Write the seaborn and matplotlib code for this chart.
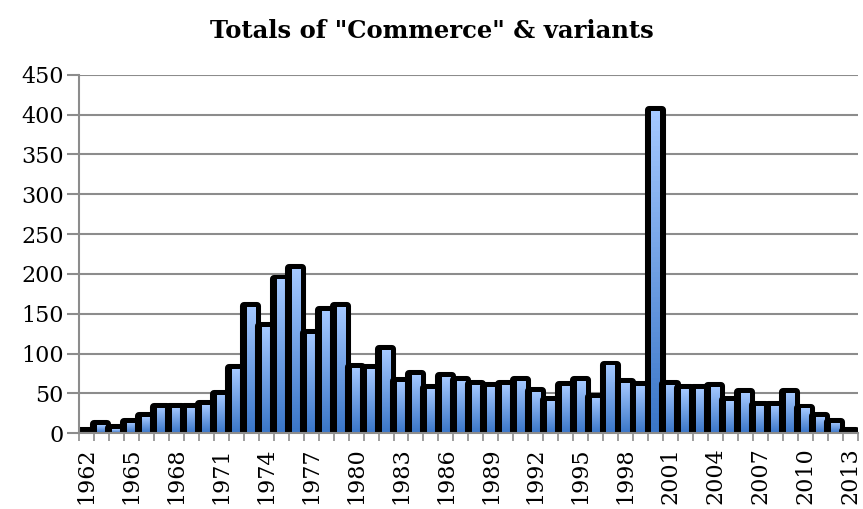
import matplotlib
matplotlib.use('Agg')
import matplotlib.pyplot as plt
import matplotlib.colors as mcolors
import numpy as np
import pandas as pd
import seaborn as sns

# Data
years = list(range(1962, 2014))
totals = [1, 10, 5, 13, 20, 32, 32, 32, 35, 48,
          80, 159, 133, 193, 206, 125, 154, 158, 82, 80,
          104, 64, 73, 55, 70, 65, 61, 58, 60, 66,
          52, 41, 59, 65, 44, 85, 63, 59, 404, 61,
          55, 55, 58, 40, 50, 34, 34, 50, 31, 20,
          13, 2]
label_years = years[::3]

df = pd.DataFrame({"Year": [str(y) for y in years], "Total": totals})

sns.set_style("white")
plt.rcParams['font.family'] = ['DejaVu Serif']
plt.rcParams['text.color'] = 'black'
plt.rcParams['xtick.color'] = 'black'
plt.rcParams['ytick.color'] = 'black'

fig, ax = plt.subplots(figsize=(8.63, 5.09), dpi=100)
fig.subplots_adjust(left=0.0915, right=0.994, bottom=0.149, top=0.853)

# grid first so bars sit on top
for v in range(50, 451, 50):
    ax.axhline(v, color='#8c8c8c', lw=1.5, zorder=0)

# black glow behind each bar (thick round-joined edge gives rounded tops)
sns.barplot(data=df, x="Year", y="Total", color='black', width=0.87,
            edgecolor='black', linewidth=5.8, ax=ax)
n_shadow = len(ax.patches)
# blue front bars
sns.barplot(data=df, x="Year", y="Total", color='#6fa0e8', width=0.56,
            linewidth=0, ax=ax)

cmap = mcolors.LinearSegmentedColormap.from_list('bar', ['#3a76c8', '#a4c8ff'])
grad = np.linspace(0, 1, 64).reshape(-1, 1)
for i, p in enumerate(ax.patches):
    if i < n_shadow:
        p.set_x(p.get_x() - 0.04)
        p.set_height(p.get_height() + 1.2)
        p.set_joinstyle('round')
        p.set_zorder(2 + 0.01 * i)
    else:
        k = i - n_shadow
        p.set_zorder(2 + 0.01 * k + 0.005)
        x0, w, h = p.get_x(), p.get_width(), p.get_height()
        if h <= 0:
            continue
        im = ax.imshow(grad, cmap=cmap, aspect='auto', origin='lower',
                       extent=(x0, x0 + w, 0, h), zorder=2 + 0.01 * k + 0.006)
        im.set_clip_path(p)

ax.set_xlim(-0.5, len(years) - 0.5)
ax.set_ylim(0, 450)
ax.set_yticks(range(0, 451, 50))
ax.tick_params(axis='y', labelsize=16, length=9, color='#8c8c8c', width=1.5,
               labelcolor='black', direction='out', pad=2, left=True)

ax.set_xticks([years.index(y) for y in label_years])
ax.set_xticklabels([str(y) for y in label_years], rotation=90, fontsize=16)
ax.set_xticks(np.arange(-0.5, len(years), 1), minor=True)
ax.tick_params(axis='x', which='major', length=0, pad=10, labelcolor='black')
ax.tick_params(axis='x', which='minor', length=6, color='#8c8c8c', width=1.2,
               direction='out', bottom=True)

for side in ['top', 'right']:
    ax.spines[side].set_visible(False)
for side in ['left', 'bottom']:
    ax.spines[side].set_color('#8c8c8c')
    ax.spines[side].set_linewidth(1.5)
    ax.spines[side].set_zorder(5)

ax.set_xlabel('')
ax.set_ylabel('')
fig.suptitle('Totals of "Commerce" & variants', fontsize=17.5,
             fontweight='bold', color='black', x=0.5, y=0.962, va='top')

plt.savefig('out.png', dpi=100)
plt.close()
